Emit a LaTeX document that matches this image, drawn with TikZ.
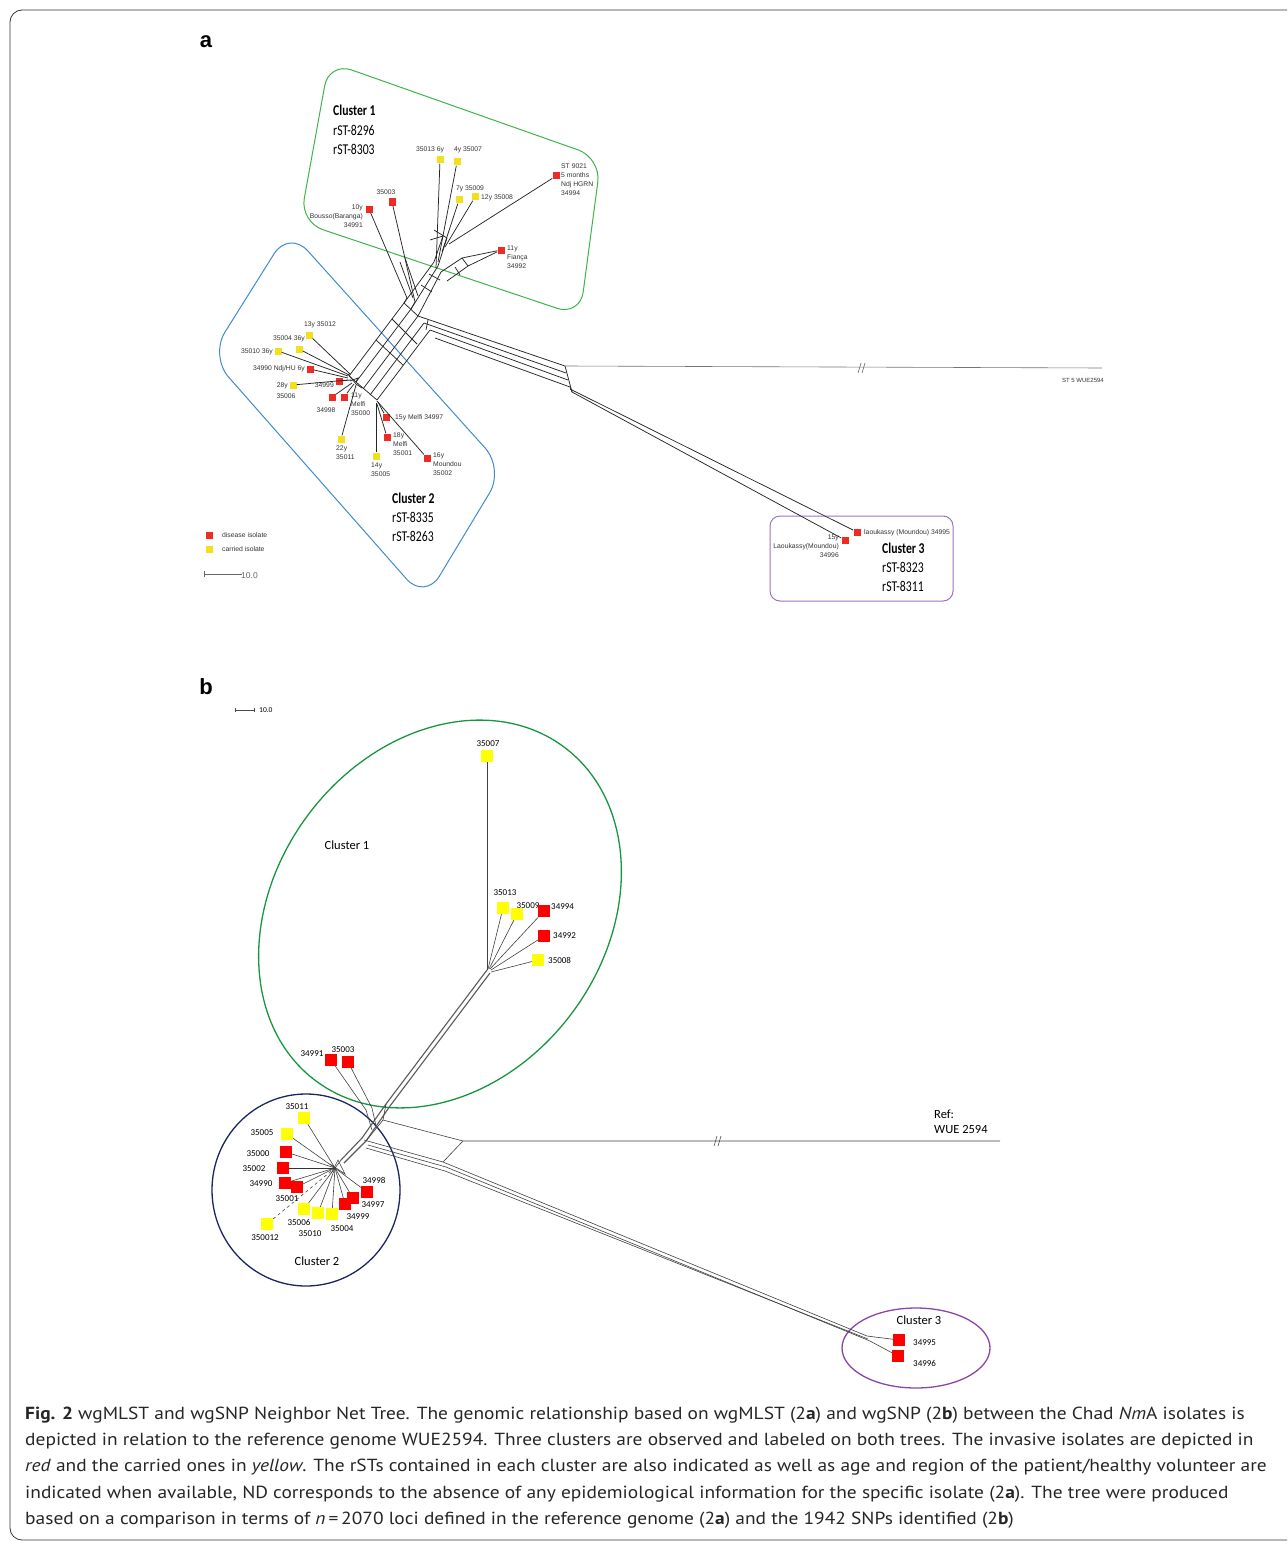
\documentclass[tikz,border=0pt]{standalone}
\usepackage{fontspec}
\usetikzlibrary{calc}
\setmainfont{Carlito}
\newfontfamily\arialf{Liberation Sans}
\newfontfamily\condf[FakeStretch=0.78]{Carlito}
\newfontfamily\capf[FakeStretch=1.11]{PT Sans}
\newfontfamily\headf{Liberation Sans}
\definecolor{redA}{HTML}{EE2B24}
\definecolor{yelA}{HTML}{F2E01C}
\definecolor{redB}{HTML}{FF0000}
\definecolor{yelB}{HTML}{FFFF00}
\definecolor{grnA}{HTML}{3DB54A}
\definecolor{bluA}{HTML}{3F8AD2}
\definecolor{purA}{HTML}{9D72C9}
\definecolor{grnB}{HTML}{17963F}
\definecolor{navB}{HTML}{1C2560}
\definecolor{purB}{HTML}{8A45A8}
\tikzset{
  ra/.style={fill=redA, minimum size=7pt, inner sep=0pt},
  ya/.style={fill=yelA, minimum size=7pt, inner sep=0pt},
  rb/.style={fill=redB, minimum size=12pt, inner sep=0pt},
  yb/.style={fill=yelB, minimum size=12pt, inner sep=0pt},
  la/.style={font=\arialf\fontsize{6.8}{8.8}\selectfont, inner sep=0pt, text=black!80},
  lb/.style={font=\fontsize{9}{11}\selectfont, inner sep=0pt},
  cl/.style={font=\condf\fontsize{15}{19}\selectfont, inner sep=0pt, anchor=west},
  clb/.style={font=\fontsize{12.5}{15}\selectfont, inner sep=0pt},
  net/.style={line width=0.75pt, black!85},
  netb/.style={line width=0.6pt, black!75},
  captxt/.style={font=\capf\fontsize{17.5}{22}\selectfont, inner sep=0pt, anchor=west, text=black!85},
}
\begin{document}
\begin{tikzpicture}[x=1pt,y=-1pt]
\useasboundingbox (0,0) rectangle (1287,1541);
\begin{scope}
\clip (0,0) rectangle (1287,1541);
\draw[line width=0.8pt, black!80, rounded corners=12] (10,10) rectangle (1310,1540);
\end{scope}

% panel labels
\node[font=\headf\bfseries\fontsize{22}{24}\selectfont, inner sep=0pt] (pa) at (206,42) {a};
\node[font=\headf\bfseries\fontsize{22}{24}\selectfont, inner sep=0pt] (pb) at (206,687) {b};

%================ PANEL A =================
% cluster frames
\draw[grnA, line width=1pt, rounded corners=24] (329,62) -- (601,158) -- (580,316) -- (300,222) -- cycle;
\draw[bluA, line width=1pt, rounded corners=28] (289,230) -- (504,469) -- (425,600) -- (210,356) -- cycle;
\draw[purA, line width=1pt, rounded corners=10] (770,516) rectangle (953,601);

% cluster captions
\node[cl] (c1a) at (333,110) {\textbf{Cluster 1}};
\node[cl] (c1b) at (333,130) {rST-8296};
\node[cl] (c1c) at (333,149) {rST-8303};
\node[cl] (c2a) at (392,498) {\textbf{Cluster 2}};
\node[cl] (c2b) at (392,517) {rST-8335};
\node[cl] (c2c) at (392,536) {rST-8263};
\node[cl] (c3a) at (882,548) {\textbf{Cluster 3}};
\node[cl] (c3b) at (882,567) {rST-8323};
\node[cl] (c3c) at (882,586) {rST-8311};

% legend
\node[ra] (lgr) at (209,535) {};
\node[la, anchor=west] (lgrt) at (222,535) {disease isolate};
\node[ya] (lgy) at (209,549) {};
\node[la, anchor=west] (lgyt) at (222,549) {carried isolate};
\coordinate (sb1) at (204,574); \coordinate (sb2) at (242,574);
\draw[black!60, line width=0.6pt] (sb1) -- (sb2);
\draw[black!60, line width=0.6pt] ($(sb1)+(0,-3)$) -- ($(sb1)+(0,3)$);
\node[la, anchor=west, font=\arialf\fontsize{8.5}{9}\selectfont, text=black!60] (sbt) at (241,576) {10.0};

% cluster 1 leaves (a)
\node[ya] (a35013) at (440,160) {};
\node[la] at (430,150) {35013 6y};
\node[ya] (a35007) at (457,162) {};
\node[la] at (468,150) {4y 35007};
\node[ya] (a35009) at (459,200) {};
\node[la] at (470,189) {7y 35009};
\node[ya] (a35008) at (475,197) {};
\node[la, anchor=west] at (481,198) {12y 35008};
\node[ra] (a34994) at (556,176) {};
\node[la, anchor=north west, align=left] at (561,164) {ST 9021\\5 months\\Ndj HGRN\\34994};
\node[ra] (a34992) at (501,250) {};
\node[la, anchor=north west, align=left] at (507,246) {11y\\Fiança\\34992};
\node[ra] (a35003) at (392,202) {};
\node[la] at (386,192) {35003};
\node[ra] (a34991) at (369,209) {};
\node[la, anchor=north east, align=right] at (363,205) {10y\\Bousso(Baranga)\\34991};

% cluster 2 leaves (a)
\node[ya] (a35012) at (309,335) {};
\node[la] at (320,325) {13y 35012};
\node[ya] (a35004) at (299,349) {};
\node[la] at (289,339) {35004 36y};
\node[ya] (a35010) at (278,351) {};
\node[la, anchor=east] at (273,352) {35010 36y};
\node[ra] (a34990) at (310,369) {};
\node[la, anchor=east] at (305,369) {34990 Ndj/HU 6y};
\node[ya] (a35006) at (293,385) {};
\node[la, anchor=east] at (288,386) {28y};
\node[la] at (286,396) {35006};
\node[ra] (a34999) at (339,381) {};
\node[la, anchor=east] at (334,385) {34999};
\node[ra] (a34998) at (332,397) {};
\node[la] at (326,410) {34998};
\node[ra] (a35000) at (344,397) {};
\node[la, anchor=north west, align=left] at (351,393) {11y\\Melfi\\35000};
\node[ya] (a35011) at (341,439) {};
\node[la, anchor=north west, align=left] at (336,446) {22y\\35011};
\node[ya] (a35005) at (376,456) {};
\node[la, anchor=north west, align=left] at (371,463) {14y\\35005};
\node[ra] (a34997) at (386,417) {};
\node[la, anchor=west] at (395,418) {15y Melfi 34997};
\node[ra] (a35001) at (387,437) {};
\node[la, anchor=north west, align=left] at (393,433) {18y\\Melfi\\35001};
\node[ra] (a35002) at (427,458) {};
\node[la, anchor=north west, align=left] at (433,453) {16y\\Moundou\\35002};

% cluster 3 leaves (a)
\node[ra] (a34996) at (845,540) {};
\node[la, anchor=north east, align=right] at (839,535) {15y\\Laoukassy(Moundou)\\34996};
\node[ra] (a34995) at (857,532) {};
\node[la, anchor=west] at (864,533) {laoukassy (Moundou) 34995};

% network (a)
\coordinate (t1) at (349,376); \coordinate (t2) at (356,382);
\coordinate (t3) at (363,389); \coordinate (t4) at (370,395); \coordinate (t5) at (377,400);
\coordinate (u1) at (404,303); \coordinate (u2) at (411,309);
\coordinate (u3) at (418,316); \coordinate (u4) at (424,323); \coordinate (u5) at (430,330);
\draw[net] (t1) -- (u1) -- (434,262) -- (443,236);
\draw[net] (t2) -- (u2) -- (438,266) -- (447,238);
\draw[net] (t3) -- (u3) -- (441,272);
\draw[net] (t4) -- (u4);
\draw[net] (t5) -- (u5);
\draw[net] (t1) -- (t5);
\draw[net] (376,340) -- (403,365);
\draw[net] (392,319) -- (417,344);
\draw[net] (u1) -- (u3);
\draw[net] (421,285) -- (432,292);
\draw[net] (429,274) -- (440,280);
% right band
\coordinate (w1) at (565,366); \coordinate (w2) at (572,392);
\draw[net] (u3) -- (w1);
\draw[net] (u4) -- (566,373);
\draw[net] (u5) -- (568,380);
\draw[net] (435,338) -- (570,387) -- (w2);
\draw[net] (w1) -- (w2);
\draw[net] (426,330) -- (428,320);
% to reference
\coordinate (ref) at (1102,368);
\draw[black!55, line width=0.6pt] (w1) -- (ref);
\draw[black!60, line width=0.6pt] (858,373) -- (861,363) (862,373) -- (865,363);
\node[la, anchor=east, font=\arialf\fontsize{6}{7}\selectfont] (refl) at (1104,380) {ST 5 WUE2594};
% to cluster 3
\draw[net] (w2) -- (a34996);
\draw[net] (570,389) -- (a34995);
% cluster 1 fan
\draw[net] (a35013) -- (436,268);
\draw[net] (a35007) -- (438,262);
\draw[net] (a35009) -- (442,252);
\draw[net] (a35008) -- (445,247);
\draw[net] (a34994) -- (449,244);
\draw[net] (434,230) -- (447,238);
\draw[net] (430,240) -- (443,236);
\draw[net] (441,272) -- (462,258) -- (a34992);
\draw[net] (447,281) -- (468,266) -- (a34992);
\draw[net] (455,267) -- (460,275);
\draw[net] (462,258) -- (468,266);
\draw[net] (a35003) -- (415,302) -- (u2);
\draw[net] (a34991) -- (407,298) -- (u1);
\draw[net] (400,262) -- (413,298);
\draw[net] (405,258) -- (418,296);
% cluster 2 fan
\coordinate (h2) at (352,378);
\coordinate (h3) at (377,401);
\draw[net] (a35012) -- (350,374);
\draw[net] (a35004) -- (349,375);
\draw[net] (a35010) -- (348,376);
\draw[net] (a34990) -- (348,378);
\draw[net] (a35006) -- (348,380);
\draw[net] (a34999) -- (351,380);
\draw[net] (a34998) -- (352,383);
\draw[net] (a35000) -- (354,384);
\draw[net] (a35011) -- (356,385);
\draw[net] (348,374) -- (356,384) -- (362,388);
\draw[net] (350,381) -- (358,378) -- (t2);
\draw[net] (a35005) -- (376,403);
\draw[net] (a34997) -- (378,402);
\draw[net] (a35001) -- (377,404);
\draw[net] (a35002) -- (h3);

%================ PANEL B =================
\draw[grnB, line width=1.3pt, rotate around={53.5:(440,914)}] (440,914) ellipse [x radius=208, y radius=165];
\draw[navB, line width=1.3pt] (306,1190) ellipse [x radius=94, y radius=96];
\draw[purB, line width=1.3pt] (916,1348) ellipse [x radius=74, y radius=40];

\node[clb] (bc1) at (347,845) {Cluster 1};
\node[clb] (bc2) at (317,1261) {Cluster 2};
\node[clb] (bc3) at (919,1320) {Cluster 3};
\node[clb, anchor=west, align=left] (bref) at (934,1122) {Ref:\\WUE 2594};

% scale bar (b)
\coordinate (sc1) at (235,710); \coordinate (sc2) at (254,710);
\draw[black!70, line width=0.5pt] (sc1) -- (sc2);
\draw[black!70, line width=0.5pt] ($(sc1)+(0,-2)$) -- ($(sc1)+(0,2)$) ($(sc2)+(0,-2)$) -- ($(sc2)+(0,2)$);
\node[lb, anchor=west, font=\fontsize{7.5}{8}\selectfont] (sct) at (259,710) {10.0};

% cluster 1 leaves (b)
\node[yb] (b35007) at (487,756) {};
\node[lb] at (488,744) {35007};
\node[yb] (b35013) at (503,908) {};
\node[lb] at (505,893) {35013};
\node[yb] (b35009) at (517,914) {};
\node[lb] at (528,906) {35009};
\node[rb] (b34994) at (544,911) {};
\node[lb, anchor=west] at (551,907) {34994};
\node[rb] (b34992) at (544,936) {};
\node[lb, anchor=west] at (553,936) {34992};
\node[yb] (b35008) at (538,960) {};
\node[lb, anchor=west] at (548,960) {35008};
\node[rb] (b34991) at (331,1060) {};
\node[lb] at (312,1054) {34991};
\node[rb] (b35003) at (348,1062) {};
\node[lb] at (343,1050) {35003};

% cluster 2 leaves (b)
\node[yb] (b35011) at (304,1118) {};
\node[lb] at (297,1107) {35011};
\node[yb] (b35005) at (287,1134) {};
\node[lb] at (262,1133) {35005};
\node[rb] (b35000) at (286,1152) {};
\node[lb] at (258,1154) {35000};
\node[rb] (b35002) at (283,1168) {};
\node[lb] at (254,1169) {35002};
\node[rb] (b34990) at (285,1183) {};
\node[lb] at (261,1184) {34990};
\node[rb] (b35001) at (297,1187) {};
\node[lb] at (287,1199) {35001};
\node[yb] (b35006) at (304,1209) {};
\node[lb] at (299,1222) {35006};
\node[yb] (b35010) at (318,1213) {};
\node[lb] at (310,1234) {35010};
\node[yb] (b35004) at (332,1214) {};
\node[lb] at (342,1229) {35004};
\node[rb] (b34999) at (345,1204) {};
\node[lb] at (358,1217) {34999};
\node[rb] (b34997) at (353,1198) {};
\node[lb] at (373,1205) {34997};
\node[rb] (b34998) at (367,1192) {};
\node[lb] at (374,1180) {34998};
\node[yb] (b350012) at (267,1224) {};
\node[lb] at (265,1238) {350012};

% cluster 3 leaves (b)
\node[rb] (b34995) at (899,1340) {};
\node[lb, anchor=west] at (913,1343) {34995};
\node[rb] (b34996) at (898,1356) {};
\node[lb, anchor=west] at (913,1363) {34996};

% network (b)
\coordinate (H1) at (487,970);
\coordinate (H2) at (335,1168);
\draw[netb] (b35007) -- (H1);
\draw[netb] (b35013) -- (488,969);
\draw[netb] (b35009) -- (489,969);
\draw[netb] (b34994) -- (490,969);
\draw[netb] (b34992) -- (491,970);
\draw[netb] (b35008) -- (491,972);
% trunk
\draw[black!65, line width=1.1pt] (H1) -- (386,1104) -- (362,1138) -- (341,1160);
\draw[black!65, line width=1.1pt] (490,973) -- (390,1106) -- (366,1141) -- (344,1163);
\draw[netb] (386,1104) -- (383,1120) -- (366,1141);
\draw[netb] (b34991) -- (366,1110) -- (372,1130);
\draw[netb] (b35003) -- (372,1108) -- (376,1126);
% to ref
\coordinate (rj) at (463,1141);
\coordinate (rf) at (1000,1141);
\draw[netb] (383,1120) -- (rj) -- (rf);
\draw[black!70, line width=0.6pt] (714,1146) -- (717,1136) (718,1146) -- (721,1136);
% to cluster 3
\draw[netb] (rj) -- (443,1162);
\draw[netb] (364,1140) -- (443,1162) -- (867,1336) -- (b34995);
\draw[netb] (368,1145) -- (446,1167) -- (870,1341) -- (b34996);
\draw[netb] (366,1148) -- (445,1171) -- (868,1339);
% cluster 2 fan
\draw[netb] (b35011) -- (H2);
\draw[netb] (b35005) -- (H2);
\draw[netb] (b35000) -- (H2);
\draw[black!80, line width=0.9pt] (b35002) -- (H2);
\draw[netb] (b34990) -- (H2);
\draw[netb] (b35001) -- (H2);
\draw[netb] (b35006) -- (H2);
\draw[netb] (b35010) -- (H2);
\draw[netb] (b35004) -- (H2);
\draw[netb] (b34999) -- (H2);
\draw[netb] (b34997) -- (H2);
\draw[netb] (b34998) -- (H2);
\draw[netb, dashed] (b350012) -- (H2);
\draw[netb] (H2) -- (341,1160);
\draw[netb] (330,1164) -- (345,1174) -- (338,1160) -- (332,1172);

%================ CAPTION =================
\node[captxt] (cap1) at (25,1415) {\textbf{Fig. 2} wgMLST and wgSNP Neighbor Net Tree. The genomic relationship based on wgMLST (2\textbf{a}) and wgSNP (2\textbf{b}) between the Chad \textit{Nm}A isolates is};
\node[captxt] (cap2) at (25,1441) {depicted in relation to the reference genome WUE2594. Three clusters are observed and labeled on both trees. The invasive isolates are depicted in};
\node[captxt] (cap3) at (25,1467) {\textit{red} and the carried ones in \textit{yellow}. The rSTs contained in each cluster are also indicated as well as age and region of the patient/healthy volunteer are};
\node[captxt] (cap4) at (25,1494) {indicated when available, ND corresponds to the absence of any epidemiological information for the specific isolate (2\textbf{a}). The tree were produced};
\node[captxt] (cap5) at (25,1520) {based on a comparison in terms of \textit{n}\,=\,2070 loci defined in the reference genome (2\textbf{a}) and the 1942 SNPs identified (2\textbf{b})};
\end{tikzpicture}
\end{document}
